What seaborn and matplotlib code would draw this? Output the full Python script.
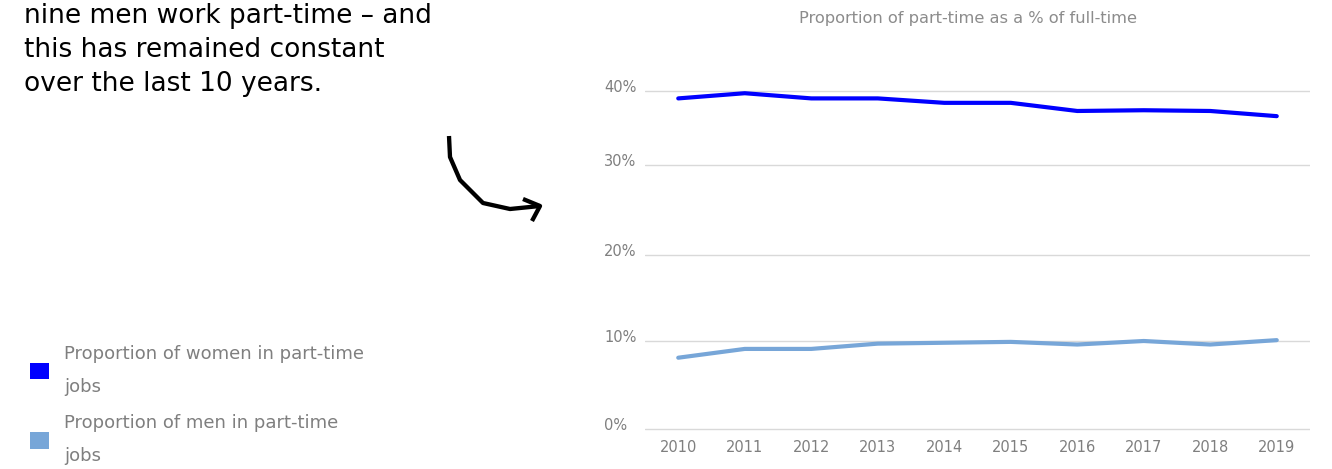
import matplotlib
matplotlib.use("Agg")
import matplotlib.pyplot as plt
import matplotlib.transforms as mtransforms
from matplotlib.lines import Line2D
from matplotlib.patches import Patch
import numpy as np
import pandas as pd
import seaborn as sns

# --- data -------------------------------------------------------------
years = [2010, 2011, 2012, 2013, 2014, 2015, 2016, 2017, 2018, 2019]
women_pct = [39.0, 39.7, 39.0, 39.0, 38.4, 38.4, 37.3, 37.4, 37.3, 36.6]
men_pct = [8.1, 9.1, 9.1, 9.7, 9.8, 9.9, 9.6, 10.0, 9.6, 10.1]
series_labels = ["Proportion of women in part-time\njobs",
                 "Proportion of men in part-time\njobs"]
y_ticks = [0, 10, 20, 30, 40]
chart_title = "Proportion of part-time as a % of full-time"
headline = ["nine men work part-time \u2013 and",
            "this has remained constant",
            "over the last 10 years."]

# --- style ------------------------------------------------------------
W, H = 1332, 469
sns.set_theme(style="white")
plt.rcParams["font.family"] = ["DejaVu Sans"]
GREY = "#7f7f7f"
colors = ["#0000ff", "#77a6d8"]

# piecewise-linear value axis (band heights in pixels per 10-point band)
scale_vals = np.array([-10, 0, 10, 20, 30, 40, 50])
scale_pos = np.array([-88, 0, 88, 174, 264, 338, 412], dtype=float)


def fwd(v):
    return np.interp(v, scale_vals, scale_pos)


def inv(p):
    return np.interp(p, scale_pos, scale_vals)


y_lo, y_hi = -1, 45
span = fwd(y_hi) - fwd(y_lo)
bottom_px = H - 429 + fwd(y_lo)  # value 0 sits 429 px from the top

fig = plt.figure(figsize=(W / 100, H / 100), dpi=100)
ax = fig.add_axes([645 / W, bottom_px / H, 665 / W, span / H])

df = pd.DataFrame({
    "year": years * 2,
    "pct": women_pct + men_pct,
    "series": [series_labels[0]] * len(years) + [series_labels[1]] * len(years),
})
sns.lineplot(data=df, x="year", y="pct", hue="series", palette=colors,
             linewidth=3, ax=ax, legend=False, sort=False)

ax.set_yscale("function", functions=(fwd, inv))
ax.set_xlim(2009.5, 2019.5)
ax.set_ylim(y_lo, y_hi)
ax.set_xticks(years)
ax.set_xticklabels([str(y) for y in years])
ax.set_yticks(y_ticks)
ax.set_yticklabels([f"{v}%" for v in y_ticks])
ax.minorticks_off()
ax.set_xlabel("")
ax.set_ylabel("")
ax.yaxis.grid(True, color="#d9d9d9", linewidth=1)
ax.xaxis.grid(False)
for s in ax.spines.values():
    s.set_visible(False)
ax.tick_params(axis="both", length=0, colors=GREY, labelsize=10.5)
ax.tick_params(axis="x", pad=1.7)
ax.tick_params(axis="y", pad=29.5)
lift = mtransforms.ScaledTranslation(0, 0.05, fig.dpi_scale_trans)
for lbl in ax.get_yticklabels():
    lbl.set_horizontalalignment("left")
    lbl.set_transform(lbl.get_transform() + lift)

# --- chart title ------------------------------------------------------
fig.text(968 / W, 1 - 19 / H, chart_title, ha="center", va="center",
         fontsize=11.7, color="#8c8c8c")

# --- headline text ----------------------------------------------------
for i, line in enumerate(headline):
    fig.text(24 / W, 1 - (23 + 34 * i) / H, line, ha="left", va="baseline",
             fontsize=19, color="black")

# --- hand-drawn arrow -------------------------------------------------
def px(points):
    return [p[0] / W for p in points], [1 - p[1] / H for p in points]

shaft = [(449, 136), (450, 157), (460, 180), (483, 203), (510, 209), (540, 206)]
head = [(523, 199), (540, 206), (532, 221)]
for pts in (shaft, head):
    xs, ys = px(pts)
    fig.add_artist(Line2D(xs, ys, transform=fig.transFigure, color="black",
                          linewidth=3.1, solid_capstyle="butt",
                          solid_joinstyle="round"))

# --- legend -----------------------------------------------------------
handles = [Patch(facecolor=c, edgecolor="none") for c in colors]
leg = fig.legend(handles=handles, labels=series_labels, loc="center left",
                 bbox_to_anchor=(30 / W, 1 - 405 / H), frameon=False,
                 fontsize=13, handlelength=1.05, handleheight=1.05,
                 handletextpad=0.85, labelspacing=1.05, borderpad=0,
                 borderaxespad=0)
for t in leg.get_texts():
    t.set_color(GREY)
    t.set_linespacing(2.05)

fig.savefig("out.png", dpi=100)
